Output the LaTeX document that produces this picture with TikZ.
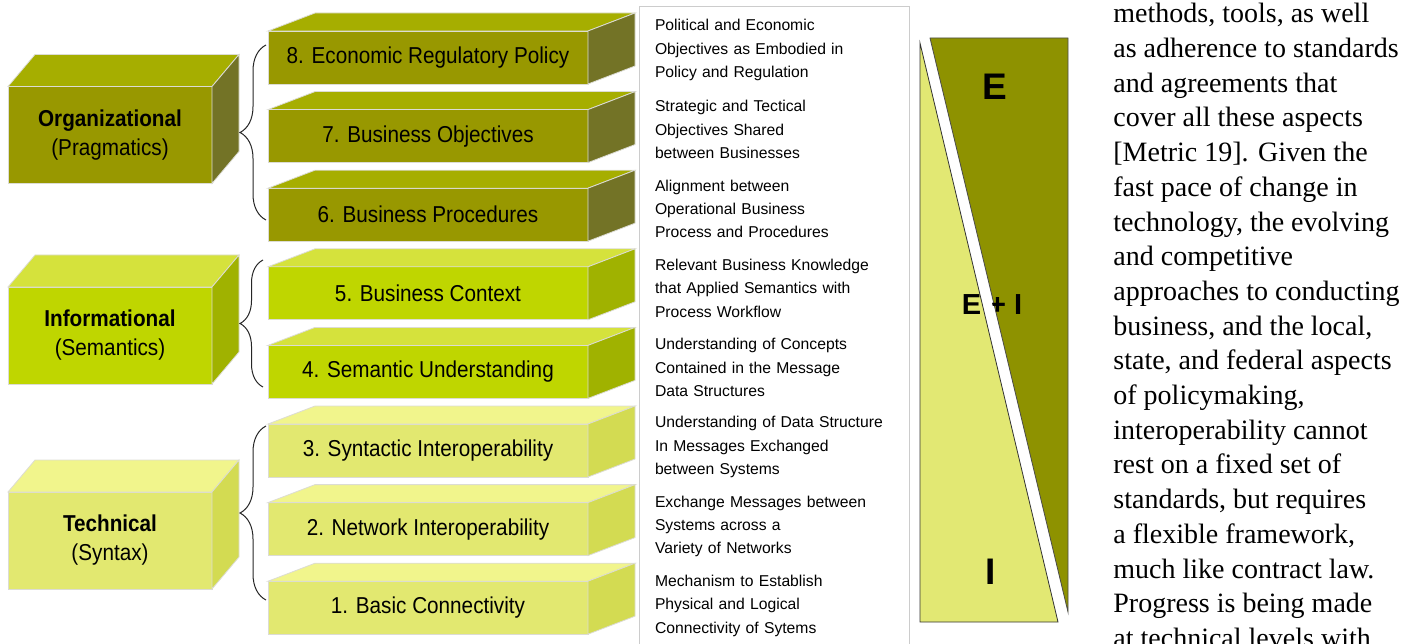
\documentclass[tikz,border=0pt]{standalone}
\usepackage{fontspec}
\setmainfont{Liberation Serif}
\newfontfamily\boxfont[FakeStretch=0.9]{Liberation Sans}
\newfontfamily\notefont{Liberation Sans}
\usepackage{tikz}
\usetikzlibrary{positioning,shapes,decorations.pathreplacing}

\definecolor{orgfront}{HTML}{989800}
\definecolor{orgtop}{HTML}{A6AE00}
\definecolor{orgside}{HTML}{737326}
\definecolor{infofront}{HTML}{BFD600}
\definecolor{infotop}{HTML}{D5E23C}
\definecolor{infoside}{HTML}{A0B200}
\definecolor{techfront}{HTML}{E2E870}
\definecolor{techtop}{HTML}{F1F58C}
\definecolor{techside}{HTML}{D3DB52}
\definecolor{edark}{HTML}{8E9200}
\definecolor{ilight}{HTML}{E2E873}
\definecolor{edgecol}{HTML}{DCDCD4}

\newcommand{\blockfaces}[5]{%
  \filldraw[fill=#2, draw=edgecol, line width=0.8pt] (#1.north west) -- ++(#4,#5) -- ([shift={(#4,#5)}]#1.north east) -- (#1.north east) -- cycle;
  \filldraw[fill=#3, draw=edgecol, line width=0.8pt] (#1.north east) -- ++(#4,#5) -- ([shift={(#4,#5)}]#1.south east) -- (#1.south east) -- cycle;}

\begin{document}
\begin{tikzpicture}[x=1pt, y=1pt, thick, node distance=78.6pt,
  stepblock/.style={rectangle, fill=#1, draw=edgecol, line width=0.8pt, minimum width=320pt, minimum height=53pt, inner sep=0pt, outer sep=0pt, font=\boxfont\fontsize{23}{27}\selectfont},
  groupblock/.style={rectangle, fill=#1, draw=edgecol, line width=0.8pt, minimum width=204pt, minimum height=97pt, inner sep=0pt, outer sep=0pt, align=center, font=\boxfont\fontsize{23}{29}\selectfont},
  notetext/.style={text width=260pt, align=left, inner sep=0pt, node distance=79.4pt, font=\notefont\fontsize{15.7}{23.3}\selectfont},
  groupbrace/.style={decorate, decoration={brace, amplitude=#1}, line width=1pt, draw=black!85},
  panellabel/.style={inner sep=0pt, font=\notefont\bfseries\fontsize{37}{40}\selectfont}]
\useasboundingbox (0,0) rectangle (1418,-644);

\node[groupblock=orgfront] (Org) at (110,-135) {{\bfseries Organizational}\\(Pragmatics)};
\node[groupblock=infofront] (Info) [below=103.5pt of Org] {{\bfseries Informational}\\(Semantics)};
\node[groupblock=techfront] (Tech) [below=108pt of Info] {{\bfseries Technical}\\(Syntax)};
\blockfaces{Org}{orgtop}{orgside}{27}{32}
\blockfaces{Info}{infotop}{infoside}{27}{32}
\blockfaces{Tech}{techtop}{techside}{27}{32}

\node[stepblock=orgfront] (Policy) at (428,-57.5) {8. Economic Regulatory Policy};
\node[stepblock=orgfront] (Objectives) [below of=Policy] {7. Business Objectives};
\node[stepblock=orgfront] (Procedures) [below of=Objectives] {6. Business Procedures};
\node[stepblock=infofront] (Context) [below of=Procedures] {5. Business Context};
\node[stepblock=infofront] (Semantic) [below of=Context] {4. Semantic Understanding};
\node[stepblock=techfront] (Syntactic) [below of=Semantic] {3. Syntactic Interoperability};
\node[stepblock=techfront] (Network) [below of=Syntactic] {2. Network Interoperability};
\node[stepblock=techfront] (Basic) [below of=Network] {1. Basic Connectivity};
\blockfaces{Policy}{orgtop}{orgside}{47}{18}
\blockfaces{Objectives}{orgtop}{orgside}{47}{18}
\blockfaces{Procedures}{orgtop}{orgside}{47}{18}
\blockfaces{Context}{infotop}{infoside}{47}{18}
\blockfaces{Semantic}{infotop}{infoside}{47}{18}
\blockfaces{Syntactic}{techtop}{techside}{47}{18}
\blockfaces{Network}{techtop}{techside}{47}{18}
\blockfaces{Basic}{techtop}{techside}{47}{18}

\coordinate (orgtop) at (266,-45);
\coordinate (orgbot) at (266,-220);
\coordinate (infotop) at (263,-260);
\coordinate (infobot) at (263,-387);
\coordinate (techtop) at (266,-426);
\coordinate (techbot) at (266,-600);
\draw[groupbrace=26pt] (orgbot) -- (orgtop);
\draw[groupbrace=23pt] (infobot) -- (infotop);
\draw[groupbrace=26pt] (techbot) -- (techtop);

\draw[gray!40, line width=1pt] (639,-650) |- (909,-7) -- (909,-650);
\node[notetext] (dPolicy) at (785,-50) {Political and Economic\\Objectives as Embodied in\\Policy and Regulation};
\node[notetext] (dObjectives) [below of=dPolicy] {Strategic and Tectical\\Objectives Shared\\between Businesses};
\node[notetext] (dProcedures) [below of=dObjectives] {Alignment between\\Operational Business\\Process and Procedures};
\node[notetext] (dContext) [below of=dProcedures] {Relevant Business Knowledge\\that Applied Semantics with\\Process Workflow};
\node[notetext] (dSemantic) [below of=dContext] {Understanding of Concepts\\Contained in the Message\\Data Structures};
\node[notetext] (dSyntactic) [below of=dSemantic] {Understanding of Data Structure\\In Messages Exchanged\\between Systems};
\node[notetext] (dNetwork) [below of=dSyntactic] {Exchange Messages between\\Systems across a\\Variety of Networks};
\node[notetext] (dBasic) [below of=dNetwork] {Mechanism to Establish\\Physical and Logical\\Connectivity of Sytems};

\filldraw[fill=ilight, draw=black!80, line width=0.8pt] (920,-43) -- (920,-622) -- (1058,-622) -- cycle;
\filldraw[fill=edark, draw=black!70, line width=0.8pt] (930,-38) -- (1068,-38) -- (1068,-612) -- cycle;
\node[panellabel] (E) at (995,-87) {E};
\node[panellabel, font=\notefont\bfseries\fontsize{29}{32}\selectfont] (EI) at (992,-305) {E + I};
\node[panellabel] (I) at (991,-572) {I};
\draw[white, line width=8pt] (929.7,-60) -- (1056.6,-590);

\node[anchor=north west, align=left, inner sep=0pt, font=\fontsize{28}{34.7}\selectfont] (para) at (1113,-3) {methods, tools, as well\\as adherence to standards\\and agreements that\\cover all these aspects\\{[}Metric 19{]}. Given the\\fast pace of change in\\technology, the evolving\\and competitive\\approaches to conducting\\business, and the local,\\state, and federal aspects\\of policymaking,\\interoperability cannot\\rest on a fixed set of\\standards, but requires\\a flexible framework,\\much like contract law.\\Progress is being made\\at technical levels with};
\end{tikzpicture}
\end{document}
